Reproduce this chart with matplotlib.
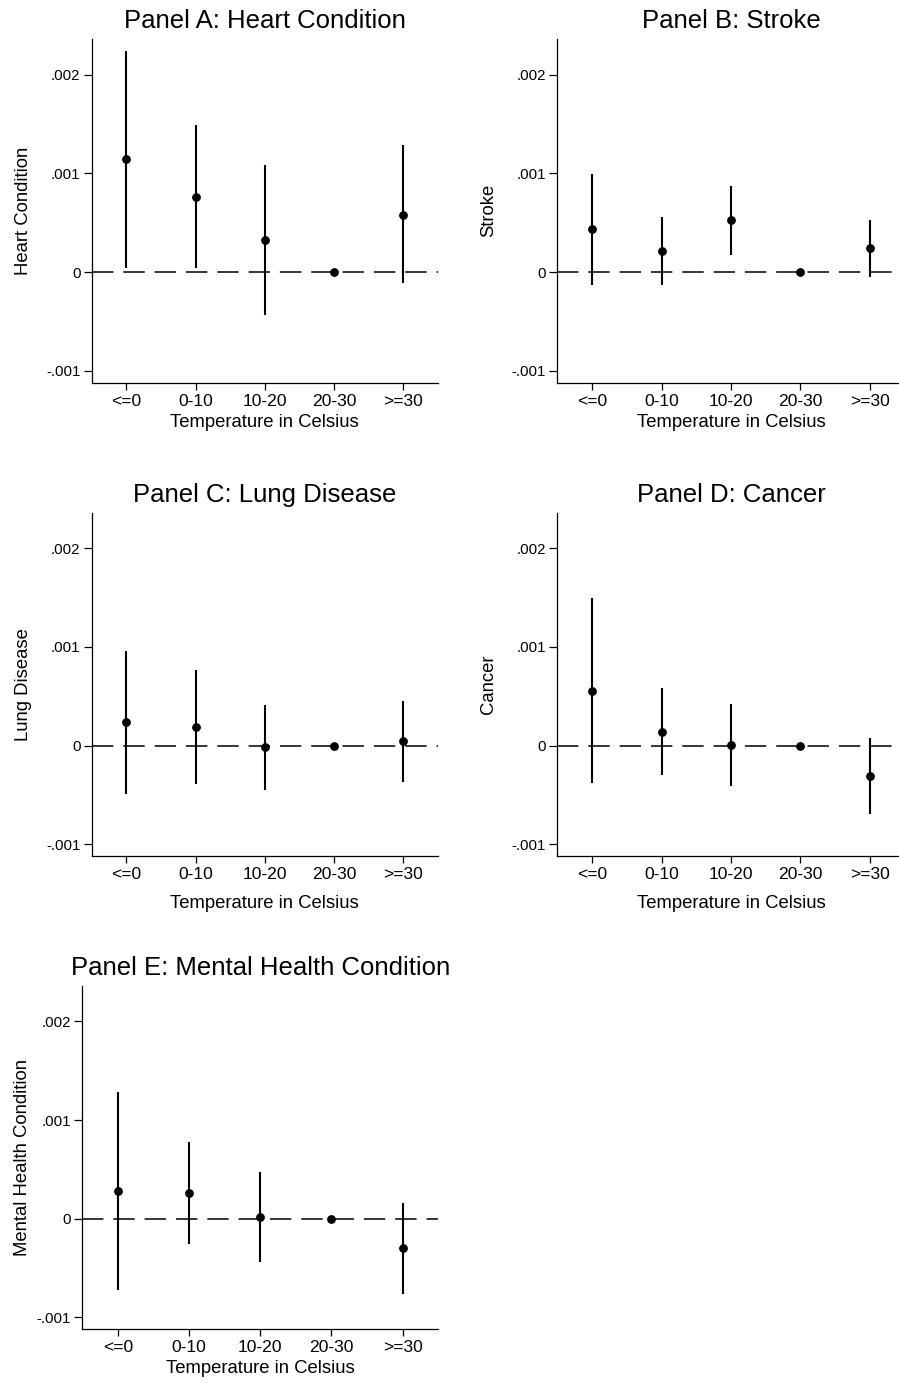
import numpy as np
import matplotlib
matplotlib.use("Agg")
from matplotlib import pyplot as plt

plt.rcParams["font.family"] = ["Liberation Sans", "DejaVu Sans"]

categories = ["<=0", "0-10", "10-20", "20-30", ">=30"]
xlabel = "Temperature in Celsius"

titles = ["Panel A: Heart Condition", "Panel B: Stroke", "Panel C: Lung Disease",
          "Panel D: Cancer", "Panel E: Mental Health Condition"]
ylabels = ["Heart Condition", "Stroke", "Lung Disease", "Cancer", "Mental Health Condition"]

# point estimates (20-30 is the omitted bin)
heart_coef = [0.001141, 0.000763, 0.000324, 0.0, 0.000580]
stroke_coef = [0.000432, 0.000216, 0.000523, 0.0, 0.000239]
lung_coef = [0.000234, 0.000187, -0.000020, 0.0, 0.000041]
cancer_coef = [0.000556, 0.000142, 0.000007, 0.0, -0.000305]
mental_coef = [0.000282, 0.000258, 0.000017, 0.0, -0.000298]

# 95% CI bounds
heart_lo = [0.000040, 0.000040, -0.000433, np.nan, -0.000111]
heart_hi = [0.002242, 0.001492, 0.001087, np.nan, 0.001283]
stroke_lo = [-0.000129, -0.000135, 0.000175, np.nan, -0.000051]
stroke_hi = [0.000993, 0.000560, 0.000871, np.nan, 0.000530]
lung_lo = [-0.000488, -0.000393, -0.000454, np.nan, -0.000369]
lung_hi = [0.000963, 0.000770, 0.000411, np.nan, 0.000455]
cancer_lo = [-0.000379, -0.000301, -0.000413, np.nan, -0.000695]
cancer_hi = [0.001495, 0.000584, 0.000421, np.nan, 0.000081]
mental_lo = [-0.000725, -0.000260, -0.000437, np.nan, -0.000766]
mental_hi = [0.001286, 0.000777, 0.000475, np.nan, 0.000163]

coefs = [heart_coef, stroke_coef, lung_coef, cancer_coef, mental_coef]
los = [heart_lo, stroke_lo, lung_lo, cancer_lo, mental_lo]
his = [heart_hi, stroke_hi, lung_hi, cancer_hi, mental_hi]

yticks = [-0.001, 0, 0.001, 0.002]
yticklabels = ["-.001", "0", ".001", ".002"]

W, H = 899, 1385
fig = plt.figure(figsize=(W / 100, H / 100), dpi=100)

# axes boxes in pixels: left, top, right, bottom
boxes = [
    (91.7, 39, 438, 382.7),
    (557.3, 39, 904.7, 382.7),
    (91.7, 512.7, 438, 856),
    (557.3, 512.7, 904.7, 856),
    (82.3, 986, 438.3, 1329),
]
ylabel_pads = [10.5, 10.5, 10.5, 10.5, 4.5]
xlabel_pads = [3.5, 3.5, 9, 9, 3.5]

x = np.arange(1, len(categories) + 1)

for i in range(5):
    l, t, r, b = boxes[i]
    ax = fig.add_axes([l / W, 1 - b / H, (r - l) / W, (b - t) / H])

    ax.axhline(0, color="black", lw=1.1, dashes=(14, 6.5), zorder=1)
    ax.vlines(x, los[i], his[i], color="black", lw=1.5, zorder=2)
    ax.plot(x, coefs[i], "o", color="black", ms=5.3, zorder=3)

    ax.set_xlim(0.5, 5.5)
    ax.set_ylim(-0.00112, 0.00236)
    ax.set_xticks(x)
    ax.set_xticklabels(categories, fontsize=12.6)
    ax.set_yticks(yticks)
    ax.set_yticklabels(yticklabels, fontsize=10.8)

    for side in ["top", "right"]:
        ax.spines[side].set_visible(False)
    for side in ["left", "bottom"]:
        ax.spines[side].set_linewidth(0.9)
    ax.tick_params(axis="y", length=6, width=0.9, pad=2)
    ax.tick_params(axis="x", length=5, width=0.9, pad=3)

    ax.set_title(titles[i], fontsize=18.5, pad=7.7)
    ax.set_ylabel(ylabels[i], fontsize=13.3, labelpad=ylabel_pads[i])
    ax.set_xlabel(xlabel, fontsize=13.3, labelpad=xlabel_pads[i])

fig.savefig("out.png", dpi=100)
